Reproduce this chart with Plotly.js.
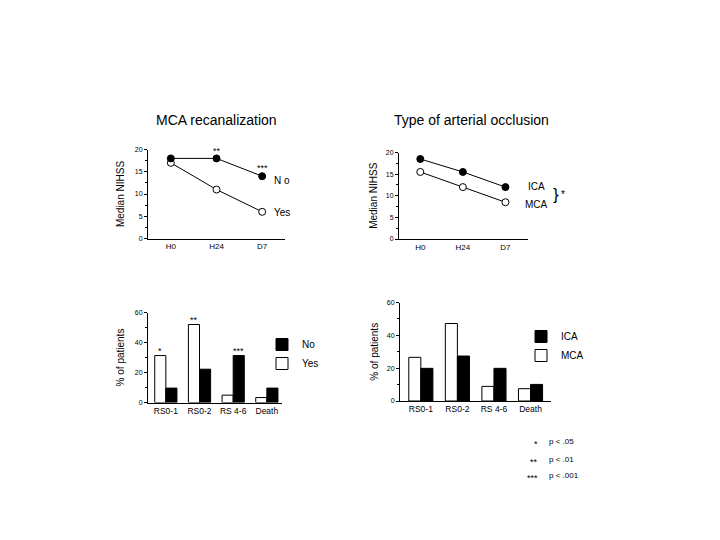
<!DOCTYPE html>
<html>
<head>
<meta charset="utf-8">
<script src="https://cdn.plot.ly/plotly-3.0.1.min.js"></script>
<style>
body { margin: 0; background: #fff; }
#chart { width: 720px; height: 540px; }
</style>
</head>
<body>
<div id="chart"></div>
<script>
// Time points and outcome groups.
var days = ['H0', 'H24', 'D7'];
var outcomes = ['RS0-1', 'RS0-2', 'RS 4-6', 'Death'];

// Median NIHSS by MCA recanalization.
var nihss_no = [18, 18, 14];
var nihss_yes = [17, 11, 6];
// Median NIHSS by type of arterial occlusion.
var nihss_ica = [18.5, 15.5, 12];
var nihss_mca = [15.5, 12, 8.5];

// % of patients per outcome.
var pct_no = [9.6, 22.2, 31.3, 9.6];
var pct_yes = [31.3, 52, 4.9, 3.3];
var pct_ica = [19.9, 27.4, 19.9, 10.1];
var pct_mca = [26.6, 47.2, 8.9, 7.5];

var font_main = 'Liberation Sans, Arial, sans-serif';

function line_trace(y, filled, xa, ya) {
  return {
    x: days, y: y, xaxis: xa, yaxis: ya,
    type: 'scatter', mode: 'lines+markers',
    line: {color: 'black', width: 1},
    marker: {size: 7, color: filled ? 'black' : 'white', line: {color: 'black', width: 1}},
    showlegend: false, cliponaxis: false
  };
}

function bar_trace(y, filled, name, xa, ya, lg) {
  return {
    x: outcomes, y: y, xaxis: xa, yaxis: ya, name: name,
    type: 'bar', legend: lg,
    marker: {color: filled ? 'black' : 'white', line: {color: 'black', width: 1}}
  };
}

var data = [
  line_trace(nihss_yes, false, 'x', 'y'),
  line_trace(nihss_no, true, 'x', 'y'),
  line_trace(nihss_mca, false, 'x2', 'y2'),
  line_trace(nihss_ica, true, 'x2', 'y2'),
  bar_trace(pct_yes, false, 'Yes', 'x3', 'y3', 'legend'),
  bar_trace(pct_no, true, 'No', 'x3', 'y3', 'legend'),
  bar_trace(pct_mca, false, 'MCA', 'x4', 'y4', 'legend2'),
  bar_trace(pct_ica, true, 'ICA', 'x4', 'y4', 'legend2')
];

function xax(domain, range, anchor, size) {
  return {
    domain: domain, range: range, anchor: anchor, type: 'category',
    showline: true, linecolor: 'black', linewidth: 1, showgrid: false,
    ticks: '', tickfont: {size: size, family: font_main, color: 'black'},
    zeroline: false, fixedrange: true
  };
}

function yax(domain, range, dtick, minor, anchor, title, standoff) {
  return {
    domain: domain, range: range, anchor: anchor, dtick: dtick,
    showline: true, linecolor: 'black', linewidth: 1, showgrid: false,
    ticks: 'outside', ticklen: 3, tickcolor: 'black',
    minor: {dtick: minor, ticks: 'outside', ticklen: 2, tickcolor: 'black', showgrid: false},
    tickfont: {size: 7, family: font_main, color: 'black'},
    zeroline: false, fixedrange: true,
    title: {text: title, font: {size: 10, family: font_main, color: 'black'}, standoff: standoff}
  };
}

function note(text, x, y, size, extra) {
  var a = {text: text, xref: 'paper', yref: 'paper', x: x / 720, y: 1 - y / 540,
           xanchor: 'center', yanchor: 'middle', showarrow: false, font: {size: size}};
  for (var k in extra) a[k] = extra[k];
  return a;
}

function mark(text, xa, ya, x, y, dx, dy, size, anchor) {
  return {text: text, xref: xa, yref: ya, x: x, y: y, xshift: dx, yshift: dy,
          xanchor: anchor || 'center', yanchor: 'middle', showarrow: false, font: {size: size}};
}

var layout = {
  width: 720, height: 540,
  margin: {l: 0, r: 0, t: 0, b: 0},
  paper_bgcolor: 'white', plot_bgcolor: 'white',
  barmode: 'group',
  bargap: 0.34,
  font: {family: font_main, color: 'black'},
  xaxis: xax([148 / 720, 285 / 720], [-0.5, 2.5], 'y', 8),
  yaxis: yax([1 - 238.5 / 540, 1 - 149.5 / 540], [0, 20], 5, 2.5, 'x', 'Median NIHSS', 8),
  xaxis2: xax([399 / 720, 528 / 720], [-0.5, 2.53], 'y2', 8),
  yaxis2: yax([1 - 239 / 540, 1 - 152.5 / 540], [0, 20], 5, 2.5, 'x2', 'Median NIHSS', 6),
  xaxis3: xax([148 / 720, 282 / 720], [-0.53, 3.45], 'y3', 8.5),
  yaxis3: yax([1 - 402.5 / 540, 1 - 312.5 / 540], [0, 60], 20, 10, 'x3', '% of patients', 8),
  xaxis4: xax([400 / 720, 551 / 720], [-0.57, 3.56], 'y4', 8.5),
  yaxis4: yax([1 - 401 / 540, 1 - 302.5 / 540], [0, 60], 20, 10, 'x4', '% of patients', 6),
  legend: {
    x: 262 / 720, y: 1 - 330 / 540, xanchor: 'left', yanchor: 'top',
    traceorder: 'reversed', bgcolor: 'rgba(0,0,0,0)',
    font: {size: 10, family: font_main, color: 'black'}
  },
  legend2: {
    x: 521 / 720, y: 1 - 322 / 540, xanchor: 'left', yanchor: 'top',
    traceorder: 'reversed', bgcolor: 'rgba(0,0,0,0)',
    font: {size: 10, family: font_main, color: 'black'}
  },
  annotations: [
    note('MCA recanalization', 216, 120, 14),
    note('Type of arterial occlusion', 471, 120, 14),
    // Top left labels.
    mark('**', 'x', 'y', 'H24', 18, 0, 7, 9),
    mark('***', 'x', 'y', 'D7', 14, 0, 8, 9),
    mark('N o', 'x', 'y', 'D7', 14, 10, -4, 10, 'left'),
    mark('Yes', 'x', 'y', 'D7', 6, 10, -1, 10, 'left'),
    // Top right labels.
    mark('ICA', 'x2', 'y2', 'D7', 12, 21, 1, 10, 'left'),
    mark('MCA', 'x2', 'y2', 'D7', 8.5, 18, -2, 10, 'left'),
    mark('}', 'x2', 'y2', 'D7', 10.2, 46, 0, 17, 'left'),
    mark('*', 'x2', 'y2', 'D7', 10.2, 54, 0, 10, 'left'),
    // Bottom left stars.
    mark('*', 'x3', 'y3', 'RS0-1', 31.3, -6, 5, 9),
    mark('**', 'x3', 'y3', 'RS0-2', 52, -6, 5, 9),
    mark('***', 'x3', 'y3', 'RS 4-6', 31.3, 5, 5, 9),
    // Footnote.
    note('*', 540, 444, 9, {xanchor: 'right'}),
    note('p < .05', 547, 441, 8, {xanchor: 'left'}),
    note('**', 540, 462, 9, {xanchor: 'right'}),
    note('p < .01', 547, 459, 8, {xanchor: 'left'}),
    note('***', 540, 478, 9, {xanchor: 'right'}),
    note('p < .001', 547, 475, 8, {xanchor: 'left'})
  ]
};

Plotly.newPlot('chart', data, layout, {displayModeBar: false, staticPlot: true});
</script>
</body>
</html>
